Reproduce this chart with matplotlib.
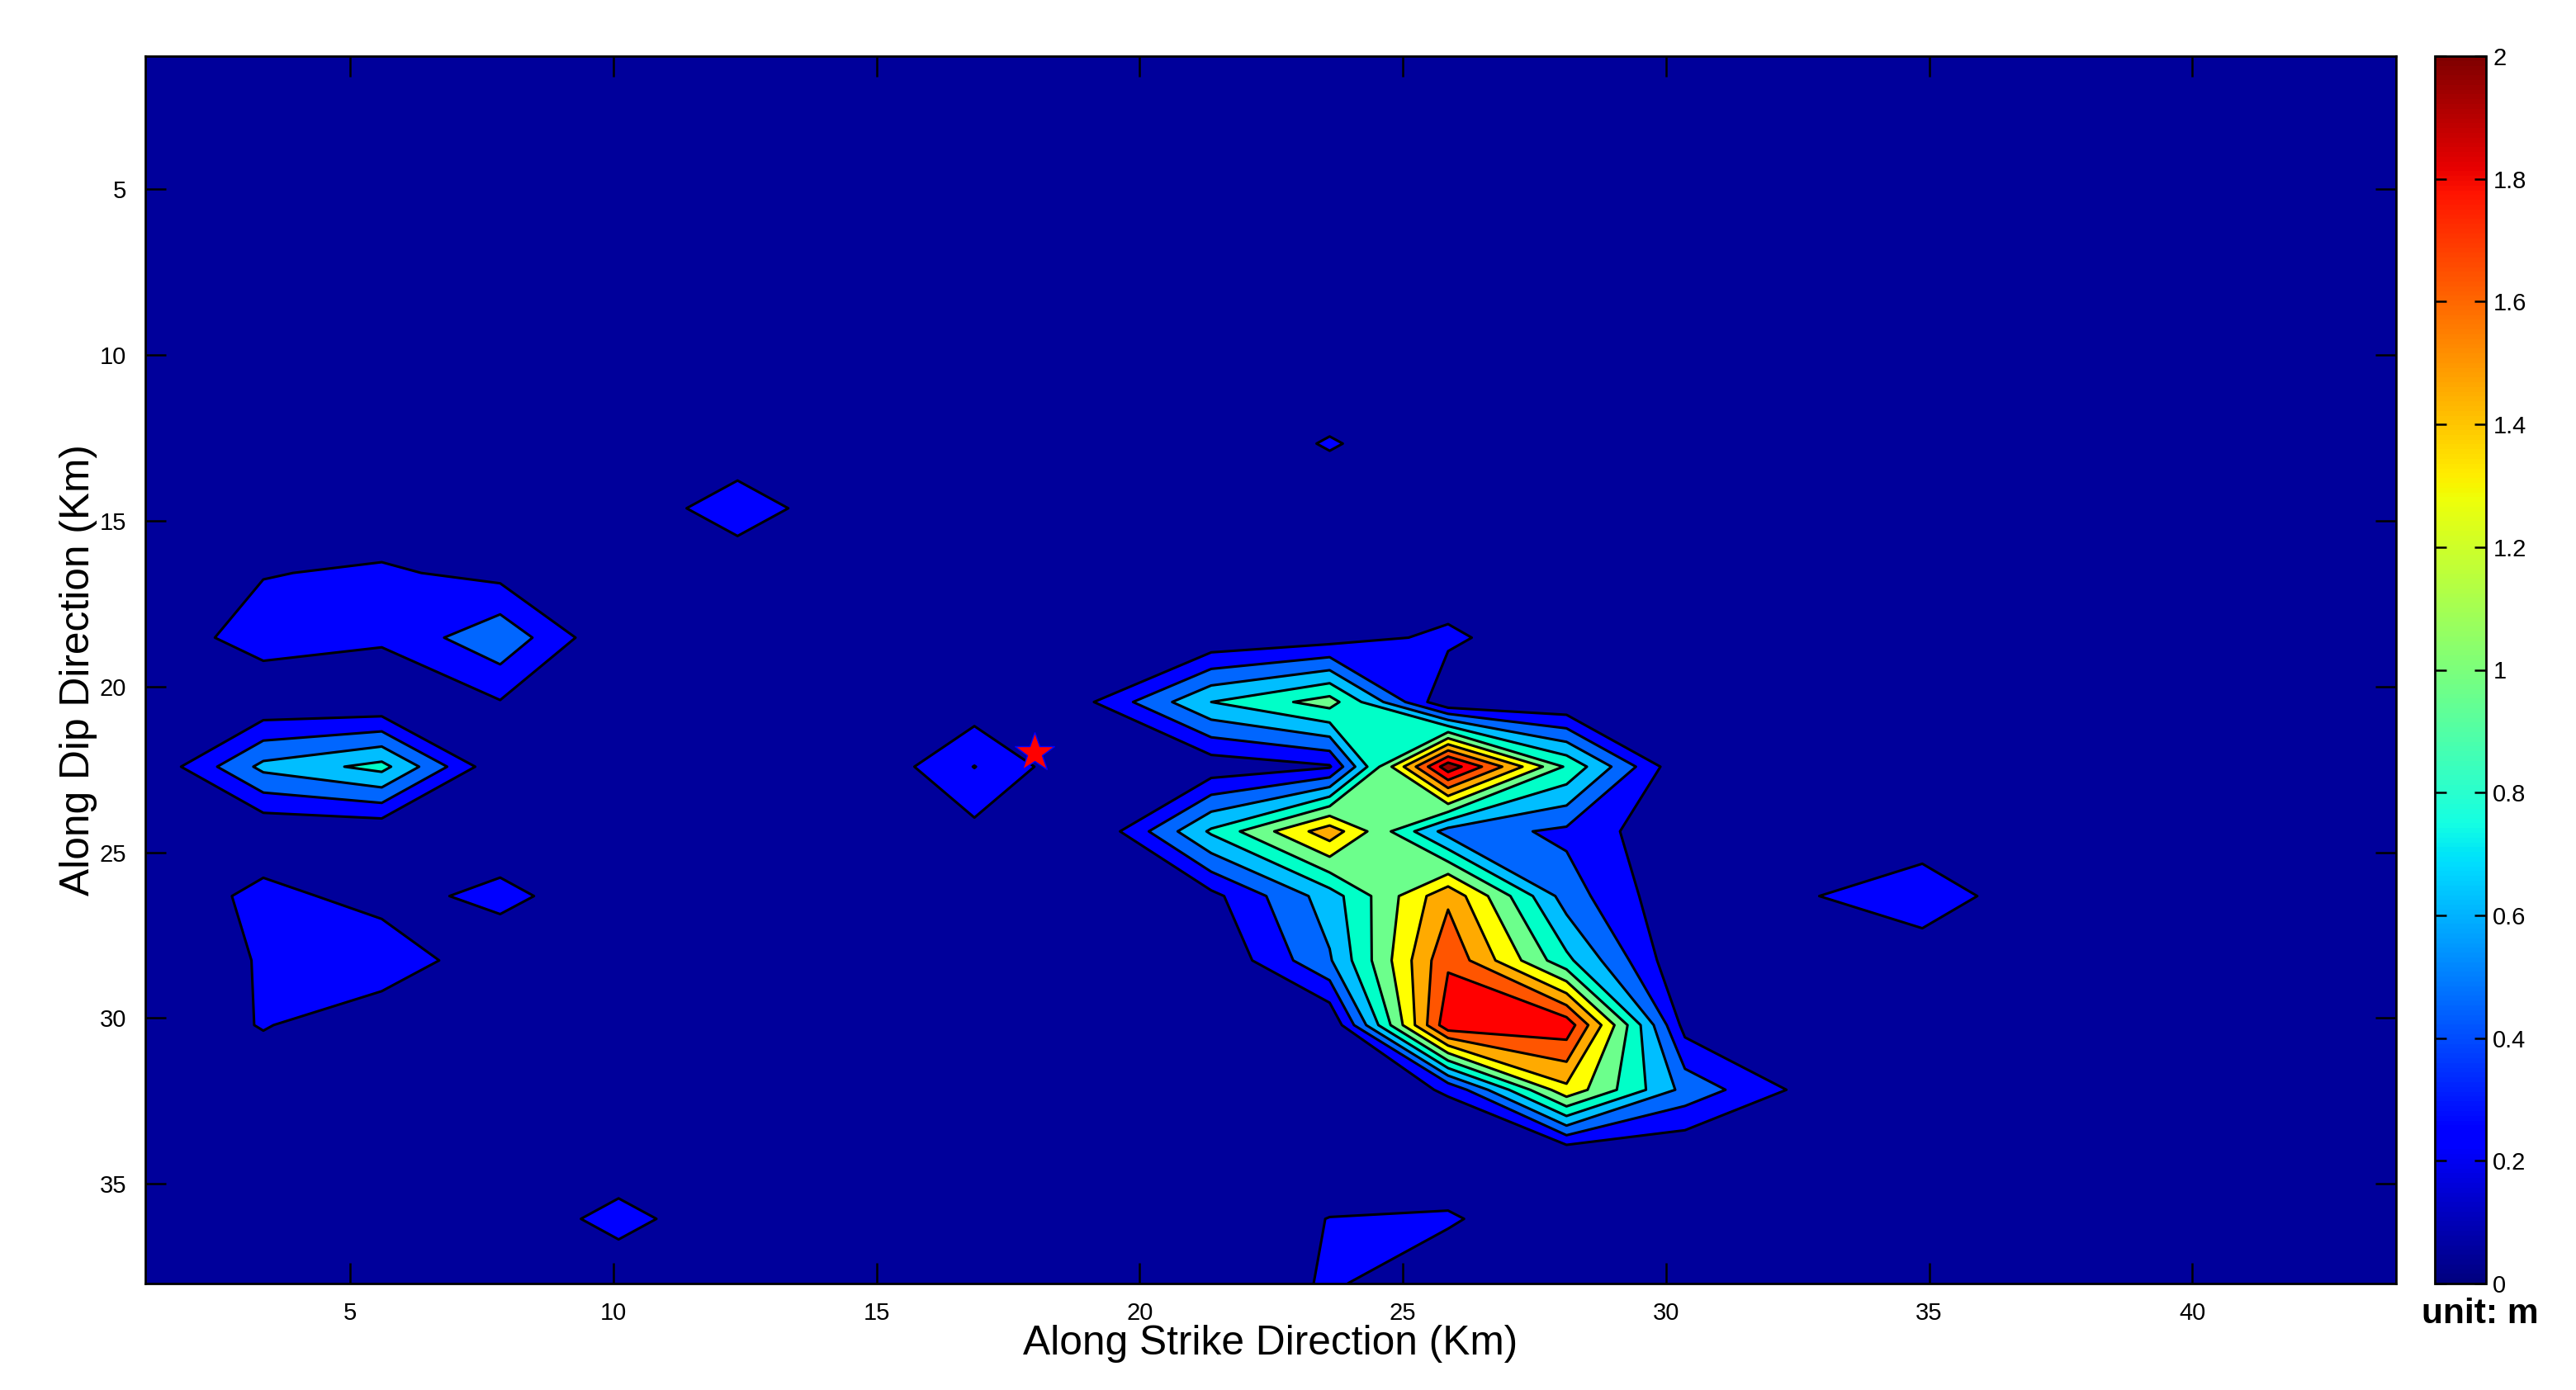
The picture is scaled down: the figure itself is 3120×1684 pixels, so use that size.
#! /usr/bin/env python3

import matplotlib
matplotlib.use('Agg')
import matplotlib.pyplot as plt

plt.rcParams['font.family'] = ['Liberation Sans', 'DejaVu Sans']

# grid nodes (km)
strike = [1.10, 3.35, 5.60, 7.85, 10.10, 12.36, 14.61, 16.86, 19.11, 21.36,
          23.61, 25.86, 28.11, 30.36, 32.61, 34.87, 37.12, 39.37, 41.62, 43.87]
dip = [1.0, 2.95, 4.89, 6.84, 8.79, 10.74, 12.68, 14.63, 16.58, 18.53,
       20.47, 22.42, 24.37, 26.32, 28.26, 30.21, 32.16, 34.11, 36.05, 38.0]

# slip (m), one row per dip node
slip = [
    [.02, .02, .02, .02, .02, .02, .02, .02, .02, .02, .02, .02, .02, .02, .02, .02, .02, .02, .02, .02],
    [.02, .02, .02, .02, .02, .02, .02, .02, .02, .02, .02, .02, .02, .02, .02, .02, .02, .02, .02, .02],
    [.02, .02, .02, .02, .02, .02, .02, .02, .02, .02, .02, .02, .02, .02, .02, .02, .02, .02, .02, .02],
    [.02, .02, .02, .02, .02, .02, .02, .02, .02, .02, .02, .02, .02, .02, .02, .02, .02, .02, .02, .02],
    [.02, .02, .02, .02, .02, .02, .02, .02, .02, .02, .02, .02, .02, .02, .02, .02, .02, .02, .02, .02],
    [.02, .02, .02, .02, .02, .02, .02, .02, .02, .02, .02, .02, .02, .02, .02, .02, .02, .02, .02, .02],
    [.02, .02, .02, .02, .02, .02, .02, .02, .02, .02, .20, .02, .02, .02, .02, .02, .02, .02, .02, .02],
    [.02, .03, .03, .02, .02, .30, .02, .02, .02, .02, .02, .02, .02, .02, .02, .02, .02, .02, .02, .02],
    [.03, .17, .21, .12, .02, .02, .02, .02, .02, .02, .02, .01, .02, .02, .02, .02, .02, .02, .02, .02],
    [.05, .27, .21, .495, .00, .02, .02, .02, .00, .02, .09, .225, .00, .02, .02, .02, .02, .02, .02, .02],
    [.02, .02, .01, .17, .02, .02, .02, .07, .175, .72, .98, .01, .01, .02, .02, .02, .02, .02, .02, .02],
    [.00, .59, .78, .02, .02, .02, .00, .365, .00, .06, .16, 1.92, .87, .00, .02, .02, .02, .02, .02, .02],
    [.02, .015, .03, .03, .02, .02, .02, .13, .01, .75, 1.37, .46, .32, .01, .02, .05, .02, .02, .02, .02],
    [.00, .245, .10, .24, .03, .02, .02, .02, .00, .125, .63, 1.40, .45, .01, .16, .31, .03, .02, .02, .02],
    [.00, .20, .325, .026, .02, .02, .02, .02, .00, .00, .52, 1.59, .765, .00, .02, .05, .02, .02, .02, .02],
    [.00, .195, .02, .02, .02, .02, .02, .02, .00, .00, .00, 1.75, 1.74, .11, .02, .02, .02, .02, .02, .02],
    [.02, .02, .02, .02, .02, .02, .02, .02, .02, .02, .03, .20, 1.21, .48, .13, .02, .02, .02, .02, .02],
    [.02, .02, .02, .02, .03, .02, .02, .02, .02, .02, .01, .01, .00, .00, .02, .02, .02, .02, .02, .02],
    [.02, .02, .02, .03, .25, .03, .02, .02, .02, .05, .185, .205, .02, .02, .02, .02, .02, .02, .02, .02],
    [.02, .02, .02, .02, .03, .02, .02, .02, .02, .02, .205, .04, .02, .02, .02, .02, .02, .02, .02, .02],
]

levels = [0.18, 0.36, 0.54, 0.72, 0.90, 1.08, 1.26, 1.44, 1.62, 1.80]
band_edges = [-0.01] + levels + [2.0]
band_colors = ['#00009b', '#0000ff', '#0066ff', '#00beff', '#00ffc8', '#6cff8c',
               '#ffff00', '#ffaa00', '#ff5500', '#ff0000', '#960000']
hypocentre = (18.0, 22.0)
x_ticks = [5, 10, 15, 20, 25, 30, 35, 40]
y_ticks = [5, 10, 15, 20, 25, 30, 35]
cbar_ticks = [0, 0.2, 0.4, 0.6, 0.8, 1, 1.2, 1.4, 1.6, 1.8, 2]
cbar_labels = ['0', '0.2', '0.4', '0.6', '0.8', '1', '1.2', '1.4', '1.6', '1.8', '2']

W, H = 3120, 1684
fig = plt.figure(figsize=(W / 200, H / 200), dpi=200)
ax = fig.add_axes([175.5 / W, 1 - 1555 / H, (2902 - 175.5) / W, (1555 - 68) / H])
cax = fig.add_axes([2949 / W, 1 - 1555 / H, 62 / W, (1555 - 68) / H])

ax.contourf(strike, dip, slip, levels=band_edges, colors=band_colors)
ax.contour(strike, dip, slip, levels=levels, colors='k', linewidths=1.1)
ax.plot(hypocentre[0], hypocentre[1], marker='*', color='r', markeredgecolor='b',
        markeredgewidth=0.5, markersize=18, clip_on=False)

ax.set_xlim(1.10, 43.87)
ax.set_ylim(38, 1)
ax.set_xticks(x_ticks)
ax.set_yticks(y_ticks)
ax.tick_params(direction='in', length=9, width=0.9, top=True, right=True, labelsize=10.5, pad=8)
ax.set_xlabel('Along Strike Direction (Km)', fontsize=17.85, labelpad=0)
ax.set_ylabel('Along Dip Direction (Km)', fontsize=17.85, labelpad=1)
for s in ax.spines.values():
    s.set_linewidth(1.0)

sm = plt.cm.ScalarMappable(norm=plt.Normalize(0, 2), cmap='jet')
cb = fig.colorbar(sm, cax=cax)
cb.set_ticks(cbar_ticks)
cb.set_ticklabels(cbar_labels)
cb.outline.set_linewidth(1.0)
cax.tick_params(direction='in', length=5, width=0.9, left=True, right=True, labelsize=10.5, pad=3)
fig.text(3004 / W, 1 - 1592 / H, 'unit: m', fontsize=15.3, fontweight='bold', ha='center', va='center')

plt.savefig('out.png', dpi=200)
